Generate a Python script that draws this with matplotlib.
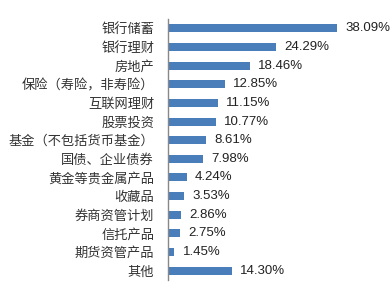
import matplotlib
matplotlib.use("Agg")
import matplotlib.pyplot as plt

plt.rcParams['font.family'] = ['Noto Sans CJK SC', 'DejaVu Sans']

categories = ["银行储蓄", "银行理财", "房地产", "保险（寿险，非寿险）", "互联网理财",
              "股票投资", "基金（不包括货币基金）", "国债、企业债券", "黄金等贵金属产品",
              "收藏品", "券商资管计划", "信托产品", "期货资管产品", "其他"]
values = [38.09, 24.29, 18.46, 12.85, 11.15, 10.77, 8.61, 7.98, 4.24, 3.53,
          2.86, 2.75, 1.45, 14.30]
labels = ["38.09%", "24.29%", "18.46%", "12.85%", "11.15%", "10.77%", "8.61%",
          "7.98%", "4.24%", "3.53%", "2.86%", "2.75%", "1.45%", "14.30%"]

fig = plt.figure(figsize=(3.91, 3.02), dpi=100)
ax = fig.add_axes([0.4297, 0.073, 0.5703, 0.864])

y = list(range(len(categories)))
ax.barh(y, values, height=0.43, color="#4A7EBB")
for yi, v, lab in zip(y, values, labels):
    ax.annotate(lab, (v, yi), xytext=(6, 0), textcoords="offset points",
                va="center", ha="left", fontsize=9.5, color="#222222",
                family=["Liberation Sans"])

ax.set_ylim(len(categories) - 0.5, -0.5)
ax.set_xlim(0, 50.2)
ax.set_yticks(y)
ax.set_yticklabels(categories, fontsize=9.5, color="#333333")
ax.tick_params(axis="y", length=0, pad=10)
ax.set_xticks([])
for s in ["top", "right", "bottom"]:
    ax.spines[s].set_visible(False)
ax.spines["left"].set_color("#888888")
ax.spines["left"].set_linewidth(1.0)

fig.savefig("out.png", dpi=100)
